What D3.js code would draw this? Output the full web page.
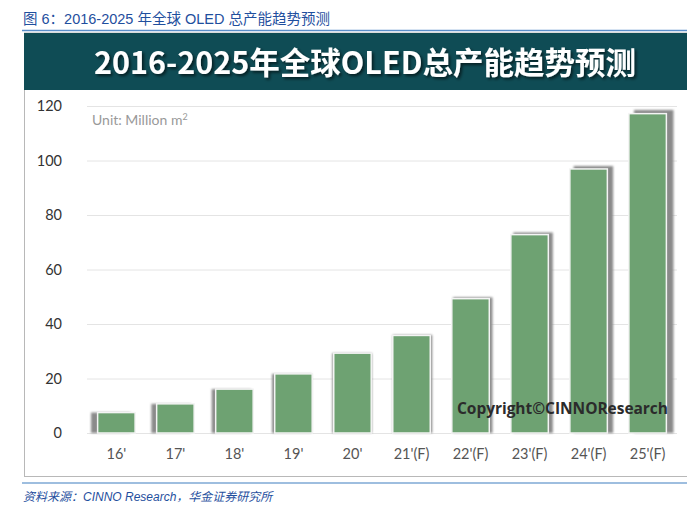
<!DOCTYPE html>
<html>
<head>
<meta charset="utf-8">
<script src="https://cdn.jsdelivr.net/npm/d3@7"></script>
<style>
  body { margin: 0; background: #fff; }
  svg { display: block; }
</style>
</head>
<body>
<div id="chart"></div>
<script>
// data
var years  = ["16'", "17'", "18'", "19'", "20'", "21'(F)", "22'(F)", "23'(F)", "24'(F)", "25'(F)"];
var values = [7.5, 10.7, 16.1, 21.7, 29.3, 35.8, 49.3, 72.8, 96.9, 117.2];
var yTicks = [0, 20, 40, 60, 80, 100, 120];

var caption = "图 6：2016-2025 年全球 OLED 总产能趋势预测";
var title   = "2016-2025年全球OLED总产能趋势预测";
var unit    = "Unit: Million m";
var source  = "资料来源：CINNO Research，华金证券研究所";
var stamp   = "Copyright©CINNOResearch";

var W = 687, H = 510;
var plot = {left: 87, right: 677, top: 106, bottom: 433};

var svg = d3.select("#chart").append("svg")
    .attr("width", W)
    .attr("height", H);

var defs = svg.append("defs");
defs.append("filter").attr("id", "blur")
    .attr("x", "-50%").attr("y", "-10%").attr("width", "200%").attr("height", "120%")
  .append("feGaussianBlur").attr("stdDeviation", 1.3);
var ts = defs.append("filter").attr("id", "tshadow")
    .attr("x", "-5%").attr("y", "-20%").attr("width", "110%").attr("height", "160%");
ts.append("feDropShadow").attr("dx", 2).attr("dy", 2)
    .attr("stdDeviation", 1.5).attr("flood-color", "#000").attr("flood-opacity", 0.6);

// caption line at top
svg.append("text")
    .attr("x", 23).attr("y", 24)
    .attr("font-family", "'Liberation Sans', 'Noto Sans CJK SC', sans-serif")
    .attr("font-size", 14.5)
    .attr("fill", "#1f4f9e")
    .text(caption);

svg.append("line")
    .attr("x1", 22).attr("x2", W).attr("y1", 30.5).attr("y2", 30.5)
    .attr("stroke", "#5b8fc9").attr("stroke-width", 1.5);

// the picture frame
svg.append("rect")
    .attr("x", 24.5).attr("y", 33).attr("width", W).attr("height", 443.5)
    .attr("fill", "#fff").attr("stroke", "#b8b8b8").attr("stroke-width", 1);

svg.append("rect")
    .attr("x", 24).attr("y", 33).attr("width", W - 24).attr("height", 57)
    .attr("fill", "#0f4c55");

svg.append("text")
    .attr("x", 365).attr("y", 74)
    .attr("text-anchor", "middle")
    .attr("font-family", "'Noto Sans CJK SC', 'Noto Sans', sans-serif")
    .attr("font-weight", "bold")
    .attr("font-size", 30.5)
    .attr("fill", "#fff")
    .attr("filter", "url(#tshadow)")
    .text(title);

// scales
var x = d3.scaleBand()
    .domain(years)
    .range([plot.left, plot.right])
    .paddingInner(0.365)
    .paddingOuter(0.18);

var y = d3.scaleLinear()
    .domain([0, 120])
    .range([plot.bottom, plot.top]);

// gridlines
svg.append("g")
    .attr("class", "grid")
    .attr("transform", "translate(" + plot.left + ",0)")
    .call(d3.axisLeft(y).tickValues(yTicks).tickSize(-(plot.right - plot.left)).tickFormat(""))
    .call(function (g) {
        g.select(".domain").remove();
        g.selectAll("line").attr("stroke", "#e4e4e4").attr("stroke-width", 1);
    });

// y labels
svg.append("g")
    .attr("transform", "translate(62,0)")
    .call(d3.axisLeft(y).tickValues(yTicks).tickSize(0).tickPadding(0))
    .call(function (g) {
        g.select(".domain").remove();
        g.selectAll("text")
            .attr("font-family", "Lato, 'Open Sans', sans-serif")
            .attr("font-size", 14.5)
            .attr("fill", "#333");
    });

// x labels
svg.append("g")
    .attr("transform", "translate(0," + plot.bottom + ")")
    .call(d3.axisBottom(x).tickSize(0).tickPadding(16))
    .call(function (g) {
        g.select(".domain").remove();
        g.selectAll("text")
            .attr("font-family", "Lato, 'Open Sans', sans-serif")
            .attr("font-size", 14.5)
            .attr("fill", "#555");
    });

// unit note
var u = svg.append("text")
    .attr("x", 92).attr("y", 125)
    .attr("font-family", "Lato, 'Open Sans', sans-serif")
    .attr("font-size", 14)
    .attr("fill", "#999")
    .text(unit);
u.append("tspan").attr("dy", -5).attr("font-size", 9).text("2");

// bar shadows (perspective look: left bars shade left, right bars shade right)
function shift(i) { return (i - 4.3) * 1.3; }
function lift(i) { return Math.max(0, shift(i)) * 0.6; }

svg.append("g").selectAll("rect")
    .data(values)
    .join("rect")
    .attr("x", function (d, i) { return x(years[i]) + shift(i) - 1; })
    .attr("y", function (d, i) { return y(d) - lift(i); })
    .attr("width", x.bandwidth() + 2)
    .attr("height", function (d, i) { return plot.bottom - y(d) + lift(i); })
    .attr("fill", "#8a8a8a")
    .attr("filter", "url(#blur)");

// bars
svg.append("g").selectAll("rect")
    .data(values)
    .join("rect")
    .attr("x", function (d, i) { return x(years[i]); })
    .attr("y", function (d) { return y(d); })
    .attr("width", x.bandwidth())
    .attr("height", function (d) { return plot.bottom - y(d); })
    .attr("fill", "#6ea272")
    .attr("stroke", "#f4f4f4")
    .attr("stroke-width", 1.5);

// watermark
svg.append("text")
    .attr("x", 668).attr("y", 414)
    .attr("text-anchor", "end")
    .attr("font-family", "'Open Sans', Lato, sans-serif")
    .attr("font-weight", "bold")
    .attr("font-size", 15.5)
    .attr("textLength", 211)
    .attr("fill", "#2b2b2b")
    .text(stamp);

// source line
svg.append("line")
    .attr("x1", 22).attr("x2", W).attr("y1", 483).attr("y2", 483)
    .attr("stroke", "#3f7fc0").attr("stroke-width", 1.2);

svg.append("text")
    .attr("x", 23).attr("y", 501)
    .attr("font-family", "'Liberation Sans', 'Noto Sans CJK SC', sans-serif")
    .attr("font-style", "italic")
    .attr("font-size", 12)
    .attr("fill", "#1f4f9e")
    .text(source);
</script>
</body>
</html>
